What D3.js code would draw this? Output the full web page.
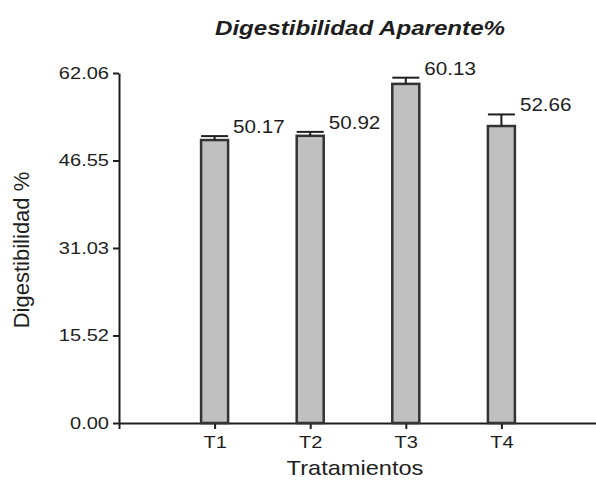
<!DOCTYPE html>
<html>
<head>
<meta charset="utf-8">
<script src="https://cdn.jsdelivr.net/npm/d3@7"></script>
<style>
  html, body { margin: 0; padding: 0; background: #fff; }
  svg { display: block; }
  text { font-family: "Liberation Sans", Arial, sans-serif; fill: #1e1e1e; }
</style>
</head>
<body>
<svg id="chart" width="596" height="481"></svg>
<script>
// ---- data ----
const categories = ["T1", "T2", "T3", "T4"];
const means = [50.17, 50.92, 60.13, 52.66];
const errors = [0.7, 0.7, 1.1, 2.05];
const yTicks = [0.00, 15.52, 31.03, 46.55, 62.06];
const title = "Digestibilidad Aparente%";
const xTitle = "Tratamientos";
const yTitle = "Digestibilidad %";

// ---- layout ----
const W = 596, H = 481;
const mLeft = 119, mRight = 597, mTop = 73, mBottom = 423;
const SX = 1.18; // horizontal text stretch seen in reference
const ink = "#1e1e1e";

const svg = d3.select("#chart");

const x = d3.scaleLinear().domain([0, categories.length + 1]).range([mLeft, mRight]);
const y = d3.scaleLinear().domain([0, 62.06]).range([mBottom, mTop]);

// y axis
const yAxis = svg.append("g")
  .attr("transform", `translate(${mLeft},0)`)
  .call(d3.axisLeft(y).tickValues(yTicks).tickFormat(d3.format(".2f")).tickSize(6).tickPadding(4).tickSizeOuter(0));
yAxis.select(".domain").attr("stroke", ink).attr("stroke-width", 2);
yAxis.selectAll(".tick line").attr("stroke", ink).attr("stroke-width", 2);
yAxis.selectAll(".tick text")
  .attr("font-size", 17).attr("fill", ink)
  .attr("font-family", "Liberation Sans, Arial, sans-serif")
  .attr("transform", `scale(${SX},1)`)
  .attr("x", -10 / SX);

// x axis
const xAxis = svg.append("g")
  .attr("transform", `translate(0,${mBottom})`)
  .call(d3.axisBottom(x).tickValues(d3.range(0, categories.length + 2))
    .tickFormat(d => (d >= 1 && d <= categories.length) ? categories[d - 1] : "")
    .tickSize(6).tickPadding(7).tickSizeOuter(0));
xAxis.select(".domain").attr("stroke", ink).attr("stroke-width", 2);
xAxis.selectAll(".tick line").attr("stroke", ink).attr("stroke-width", 2);
xAxis.selectAll(".tick text")
  .attr("font-size", 17).attr("fill", ink)
  .attr("font-family", "Liberation Sans, Arial, sans-serif")
  .attr("transform", `scale(${SX},1)`);

// bars
const barW = 27;
const data = categories.map((c, i) => ({ c, i, v: means[i], e: errors[i] }));

svg.append("g").selectAll("rect").data(data).join("rect")
  .attr("x", d => x(d.i + 1) - barW / 2)
  .attr("y", d => y(d.v))
  .attr("width", barW)
  .attr("height", d => y(0) - y(d.v))
  .attr("fill", "#c0c0c0")
  .attr("stroke", "#333")
  .attr("stroke-width", 2.5);

// error bars (upper)
const eb = svg.append("g").attr("stroke", ink).attr("stroke-width", 2);
eb.selectAll("line.v").data(data).join("line").attr("class", "v")
  .attr("x1", d => x(d.i + 1)).attr("x2", d => x(d.i + 1))
  .attr("y1", d => y(d.v)).attr("y2", d => y(d.v + d.e));
eb.selectAll("line.cap").data(data).join("line").attr("class", "cap")
  .attr("x1", d => x(d.i + 1) - barW / 2).attr("x2", d => x(d.i + 1) + barW / 2)
  .attr("y1", d => y(d.v + d.e)).attr("y2", d => y(d.v + d.e));

// value labels
svg.append("g").selectAll("text").data(data).join("text")
  .attr("transform", d => `translate(${x(d.i + 1) + barW / 2 + 5},${y(d.v + d.e) - 3}) scale(${SX},1)`)
  .attr("font-size", 17.5)
  .text(d => d.v.toFixed(2));

// title
svg.append("text")
  .attr("transform", `translate(360,35) scale(1.15,1)`)
  .attr("text-anchor", "middle")
  .attr("font-size", 21).attr("font-weight", "bold").attr("font-style", "italic")
  .text(title);

// x title
svg.append("text")
  .attr("transform", `translate(355,475) scale(${SX},1)`)
  .attr("text-anchor", "middle")
  .attr("font-size", 20)
  .text(xTitle);

// y title
svg.append("text")
  .attr("transform", `translate(29,250) rotate(-90)`)
  .attr("text-anchor", "middle")
  .attr("font-size", 22)
  .text(yTitle);
</script>
</body>
</html>
